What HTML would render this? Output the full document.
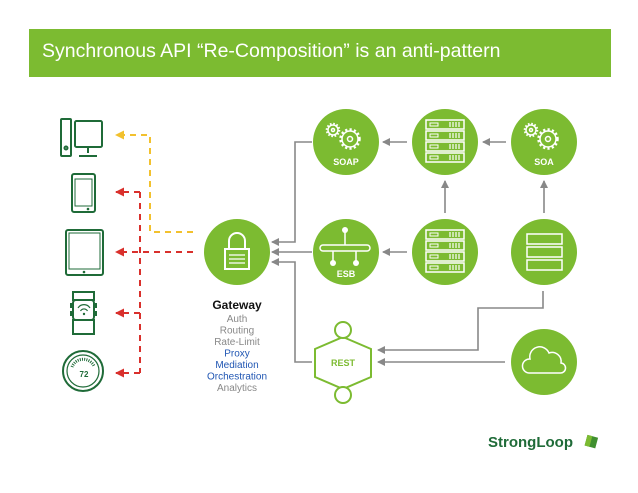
<!DOCTYPE html>
<html><head><meta charset="utf-8"><style>
html,body{margin:0;padding:0;background:#fff;}
svg{display:block;font-family:"Liberation Sans",sans-serif;}
</style></head><body>
<svg width="638" height="493" viewBox="0 0 638 493" xmlns="http://www.w3.org/2000/svg">
<defs>
<marker id="ag" markerWidth="8" markerHeight="8" refX="7" refY="4" orient="auto" markerUnits="userSpaceOnUse"><path d="M0,0 L8,4 L0,8 z" fill="#888"/></marker>
<marker id="ar" markerWidth="9" markerHeight="9" refX="8" refY="4.5" orient="auto" markerUnits="userSpaceOnUse"><path d="M0,0 L9,4.5 L0,9 z" fill="#d9302c"/></marker>
<marker id="ay" markerWidth="9" markerHeight="9" refX="8" refY="4.5" orient="auto" markerUnits="userSpaceOnUse"><path d="M0,0 L9,4.5 L0,9 z" fill="#f2c12e"/></marker>
<g id="bar"><rect x="0" y="0" width="38" height="9" fill="none" stroke="#fff" stroke-width="1.5"/><rect x="4" y="3" width="8" height="3" fill="none" stroke="#fff" stroke-width="1"/><path d="M24,2 V7 M27,2 V7 M30,2 V7 M33,2 V7" stroke="#fff" stroke-width="1.2"/></g>
</defs>
<rect x="29" y="29" width="582" height="48" fill="#7cbb31"/>
<text x="42" y="57" font-size="19.5" fill="#fff">Synchronous API “Re-Composition” is an anti-pattern</text>

<g fill="none" stroke="#1f6b38" stroke-width="2">
<rect x="61" y="119" width="10" height="37" rx="1"/>
<circle cx="66" cy="148" r="1.5"/>
<rect x="75" y="121" width="27" height="26" rx="1.5"/>
<path d="M88,147 V153 M79,156 H97"/>
<rect x="72" y="174" width="23" height="38" rx="2"/>
<rect x="75" y="179" width="17" height="27" stroke-width="1"/>
<rect x="66" y="230" width="37" height="45" rx="2"/>
<rect x="69" y="233" width="31" height="36" stroke-width="1"/>
<rect x="73" y="292" width="21" height="8"/>
<rect x="73" y="320" width="21" height="14"/>
<rect x="73" y="300" width="21" height="20" rx="3"/>
<circle cx="83" cy="371" r="20"/>
<circle cx="83" cy="371" r="16" stroke-width="1.2"/>
<path d="M72,367 A12,12 0 0 1 94,366" stroke-width="3" stroke-dasharray="1 1.2"/>
<path d="M78,308 A7,7 0 0 1 90,308 M80.5,311 A4,4 0 0 1 87.5,311" stroke-width="1.2"/>
</g>
<circle cx="88" cy="209" r="1.3" fill="#1f6b38"/>
<circle cx="84" cy="272" r="1.3" fill="#1f6b38"/>
<circle cx="84" cy="314" r="1.2" fill="#1f6b38"/>
<rect x="70" y="303" width="3" height="5" fill="#1f6b38"/><rect x="94" y="303" width="3" height="5" fill="#1f6b38"/>
<rect x="70" y="311" width="3" height="5" fill="#1f6b38"/><rect x="94" y="311" width="3" height="5" fill="#1f6b38"/>
<text x="84" y="377" font-size="8" font-weight="bold" fill="#1f6b38" text-anchor="middle">72</text>

<g fill="none" stroke-width="2" stroke-dasharray="6 5">
<path d="M193,232 H150 V135 H116" stroke="#f2c12e" marker-end="url(#ay)"/>
<path d="M193,252 H116" stroke="#d9302c" marker-end="url(#ar)"/>
<path d="M140,192 V373" stroke="#d9302c"/>
<path d="M140,192 H116" stroke="#d9302c" marker-end="url(#ar)"/>
<path d="M140,313 H116" stroke="#d9302c" marker-end="url(#ar)"/>
<path d="M140,373 H116" stroke="#d9302c" marker-end="url(#ar)"/>
</g>

<g fill="none" stroke="#888" stroke-width="1.6">
<path d="M312,142 H295 V242 H272" marker-end="url(#ag)"/>
<path d="M312,252 H272" marker-end="url(#ag)"/>
<path d="M312,362 H295 V262 H272" marker-end="url(#ag)"/>
<path d="M407,142 H383" marker-end="url(#ag)"/>
<path d="M506,142 H483" marker-end="url(#ag)"/>
<path d="M407,252 H383" marker-end="url(#ag)"/>
<path d="M445,213 V181" marker-end="url(#ag)"/>
<path d="M544,213 V181" marker-end="url(#ag)"/>
<path d="M543,291 V308 H478 V350 H378" marker-end="url(#ag)"/>
<path d="M505,362 H378" marker-end="url(#ag)"/>
</g>

<circle cx="237" cy="252" r="33" fill="#7cbb31"/>
<g fill="none" stroke="#fff" stroke-width="2">
<path d="M229,249 V241 A8,8 0 0 1 245,241 V249"/>
<rect x="225" y="249" width="24" height="20"/>
<path d="M229,255 H245 M229,259 H245 M229,263 H245" stroke-width="1.2"/>
</g>
<g text-anchor="middle" font-size="10">
<text x="237" y="309" font-size="12" font-weight="bold" fill="#111">Gateway</text>
<text x="237" y="322" fill="#888">Auth</text>
<text x="237" y="333.5" fill="#888">Routing</text>
<text x="237" y="345" fill="#888">Rate-Limit</text>
<text x="237" y="356.5" fill="#2056b3">Proxy</text>
<text x="237" y="368" fill="#2056b3">Mediation</text>
<text x="237" y="379.5" fill="#2056b3">Orchestration</text>
<text x="237" y="391" fill="#888">Analytics</text>
</g>

<g fill="#7cbb31">
<circle cx="346" cy="142" r="33"/><circle cx="445" cy="142" r="33"/><circle cx="544" cy="142" r="33"/>
<circle cx="346" cy="252" r="33"/><circle cx="445" cy="252" r="33"/><circle cx="544" cy="252" r="33"/>
<circle cx="544" cy="362" r="33"/>
</g>
<g fill="none" stroke="#fff" stroke-width="1.5">
<circle cx="333" cy="130" r="5"/><circle cx="333" cy="130" r="1.5"/>
<circle cx="333" cy="130" r="6.3" stroke-width="2" stroke-dasharray="1.6 1.7"/>
<circle cx="350" cy="139" r="8"/><circle cx="350" cy="139" r="2.5"/>
<circle cx="350" cy="139" r="9.5" stroke-width="2.5" stroke-dasharray="2.2 2.2"/>
<circle cx="531" cy="130" r="5"/><circle cx="531" cy="130" r="1.5"/>
<circle cx="531" cy="130" r="6.3" stroke-width="2" stroke-dasharray="1.6 1.7"/>
<circle cx="548" cy="139" r="8"/><circle cx="548" cy="139" r="2.5"/>
<circle cx="548" cy="139" r="9.5" stroke-width="2.5" stroke-dasharray="2.2 2.2"/>
<rect x="527" y="234" width="35" height="10"/><rect x="527" y="247" width="35" height="10"/><rect x="527" y="260" width="35" height="10"/>
<rect x="320" y="245" width="50" height="6" rx="3"/>
<path d="M345,232 V245 M333,251 V262 M356,251 V262"/>
<path d="M529,373 A7,7 0 0 1 530,359 A10,10 0 0 1 549,353 A9,9 0 0 1 561,363 A5,5 0 0 1 560,373 Z"/>
</g>
<use href="#bar" x="426" y="120"/><use href="#bar" x="426" y="131"/><use href="#bar" x="426" y="142"/><use href="#bar" x="426" y="153"/>
<use href="#bar" x="426" y="230"/><use href="#bar" x="426" y="241"/><use href="#bar" x="426" y="252"/><use href="#bar" x="426" y="263"/>
<g fill="#fff">
<circle cx="345" cy="230" r="3"/><circle cx="333" cy="263" r="3"/><circle cx="356" cy="263" r="3"/>
</g>
<g font-size="9" font-weight="bold" fill="#fff" text-anchor="middle">
<text x="346" y="165">SOAP</text><text x="544" y="165">SOA</text><text x="346" y="277">ESB</text>
</g>
<path d="M343,337 L371,349 V377 L343,389 L315,377 V349 Z" fill="#fff" stroke="#7cbb31" stroke-width="2"/>
<circle cx="343" cy="330" r="8" fill="#fff" stroke="#7cbb31" stroke-width="2"/>
<circle cx="343" cy="395" r="8" fill="#fff" stroke="#7cbb31" stroke-width="2"/>
<text x="343" y="366" font-size="9" font-weight="bold" fill="#7cbb31" text-anchor="middle">REST</text>

<text x="488" y="447" font-size="15" font-weight="bold" fill="#1f6b38">StrongLoop</text>
<rect x="586" y="436" width="11" height="11" fill="#3f8f2f" transform="rotate(15 591 441)"/>
<rect x="586" y="436" width="5" height="11" fill="#7cbb31" transform="rotate(15 591 441)"/>
</svg>
</body></html>
